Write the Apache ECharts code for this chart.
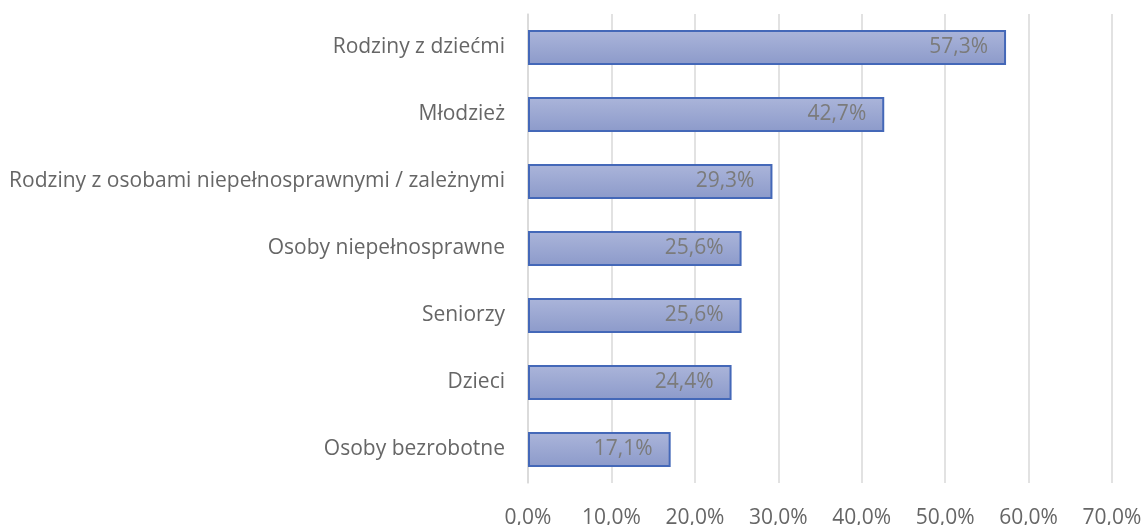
<!DOCTYPE html>
<html>
<head>
<meta charset="utf-8">
<script src="https://cdn.jsdelivr.net/npm/echarts@6/dist/echarts.min.js"></script>
<style>
  html, body { margin: 0; padding: 0; background: #ffffff; }
  #chart { width: 1142px; height: 525px; }
</style>
</head>
<body>
<div id="chart"></div>
<script>
// Target groups, listed top to bottom
const categories = [
  'Rodziny z dziećmi',
  'Młodzież',
  'Rodziny z osobami niepełnosprawnymi / zależnymi',
  'Osoby niepełnosprawne',
  'Seniorzy',
  'Dzieci',
  'Osoby bezrobotne'
];
// Share of responses, in percent
const shares = [57.3, 42.7, 29.3, 25.6, 25.6, 24.4, 17.1];

const fmtPct = v => v.toFixed(1).replace('.', ',') + '%';

const chart = echarts.init(document.getElementById('chart'));
chart.setOption({
  animation: false,
  grid: {
    left: 528, right: 30, top: 14, height: 469,
    containLabel: false,
    outerBoundsMode: 'none'
  },
  xAxis: {
    type: 'value',
    min: 0,
    max: 70,
    interval: 10,
    axisLine: { show: false },
    axisTick: { show: false },
    splitLine: { show: true, lineStyle: { color: '#d9d9d9', width: 1.5 } },
    axisLabel: {
      margin: 25,
      color: '#666666',
      fontFamily: 'Open Sans',
      fontSize: 21,
      formatter: v => fmtPct(v)
    }
  },
  yAxis: {
    type: 'category',
    data: categories,
    inverse: true,
    axisLine: { show: true, lineStyle: { color: '#d9d9d9', width: 1.5 } },
    axisTick: { show: false },
    axisLabel: {
      margin: 23,
      color: '#666666',
      fontFamily: 'Open Sans',
      fontSize: 21
    }
  },
  series: [{
    type: 'bar',
    data: shares,
    barWidth: 35,
    itemStyle: {
      color: new echarts.graphic.LinearGradient(0, 0, 0, 1, [
        { offset: 0, color: '#abb5da' },
        { offset: 1, color: '#8c9aca' }
      ]),
      borderColor: '#4468b8',
      borderWidth: 2
    },
    label: {
      show: true,
      position: 'insideRight',
      distance: 18,
      color: '#7b7b7b',
      fontFamily: 'Open Sans',
      fontSize: 21,
      formatter: p => fmtPct(p.value)
    }
  }]
});
</script>
</body>
</html>
